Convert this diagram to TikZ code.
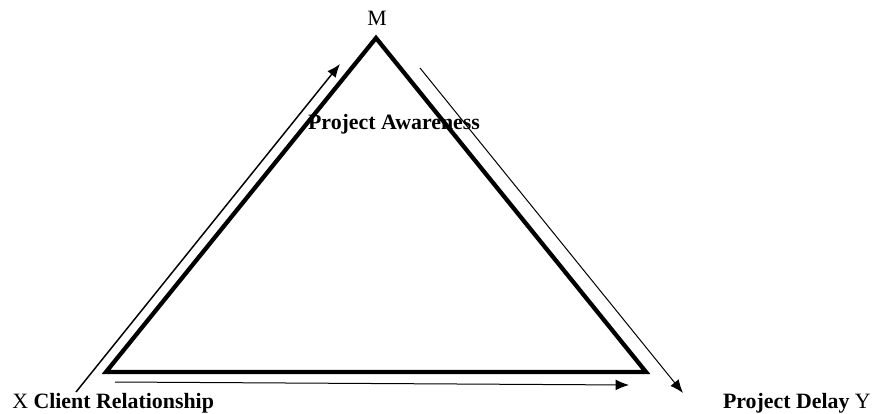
\documentclass[tikz,border=0pt]{standalone}
\usepackage{fontspec}
\setmainfont{Liberation Serif}
\usetikzlibrary{arrows.meta}
\begin{document}
\begin{tikzpicture}[x=0.75pt,y=-0.75pt,
  lbl/.style={inner sep=0pt,font=\fontsize{16.4}{19}\selectfont},
  tri/.style={line width=3.2pt,line join=miter},
  flow/.style={line width=1.1pt,-{Latex[length=10pt,width=8pt]}},
  thinflow/.style={line width=0.75pt,-{Latex[length=10pt,width=8pt]}}]
\useasboundingbox (0,0) rectangle (878,414);
\coordinate (A) at (376,38);
\coordinate (B) at (106,372);
\coordinate (C) at (646,372);
\draw[tri] (A) -- (B) -- (C) -- cycle;
\node[lbl] (m) at (377,18) {M};
\node[lbl] (pa) at (394,124) {\textbf{Project Awareness}};
\node[lbl,anchor=west] (x) at (12,403) {X \textbf{Client Relationship}};
\node[lbl,anchor=east] (y) at (871,403) {\textbf{Project Delay} Y};
\coordinate (l1) at (76,392);
\coordinate (l2) at (340,64);
\coordinate (r1) at (420,68);
\coordinate (r2) at (683,393);
\coordinate (b1) at (115,382);
\coordinate (b2) at (629,385);
\draw[flow] (l1) -- (l2);
\draw[thinflow] (r1) -- (r2);
\draw[thinflow] (b1) -- (b2);
\end{tikzpicture}
\end{document}
